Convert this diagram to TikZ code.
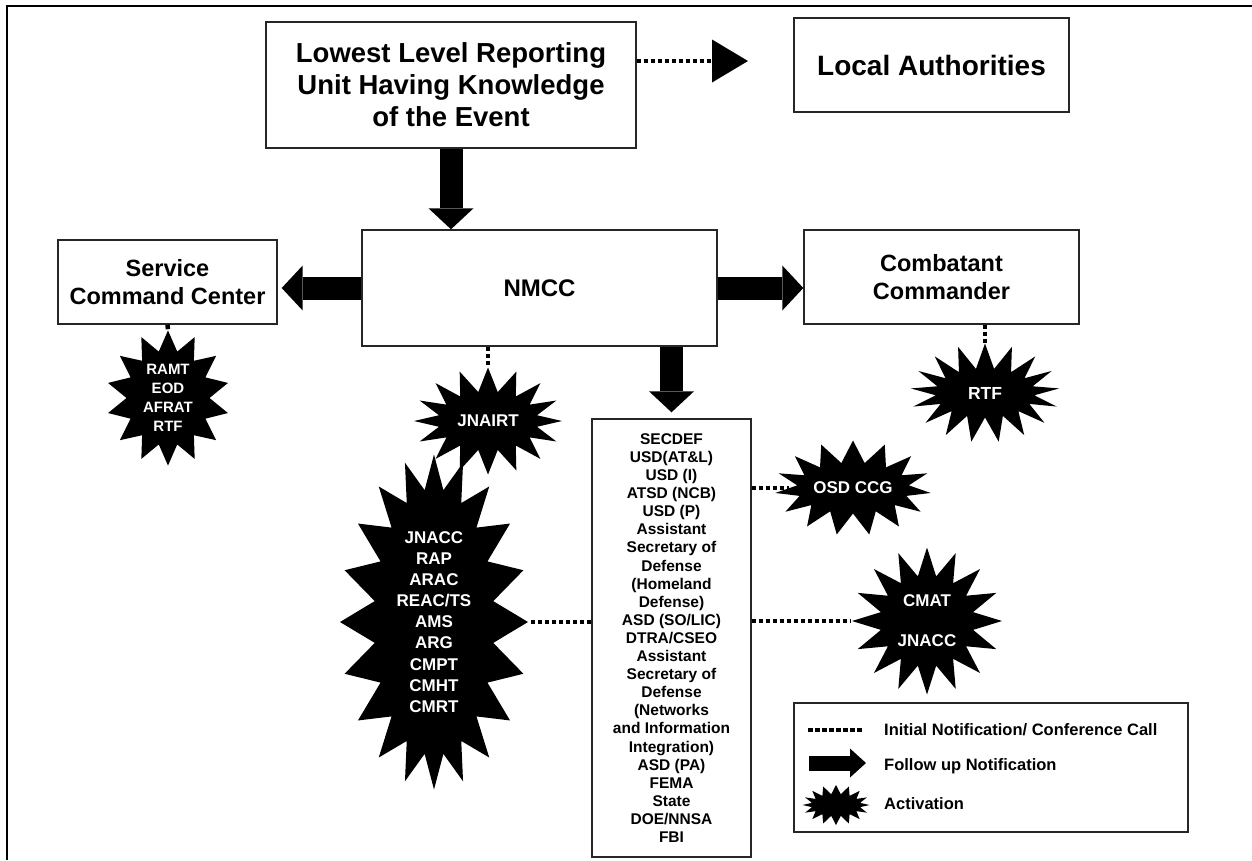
\documentclass[tikz,border=0pt]{standalone}
\usepackage{fontspec}
\setmainfont{Liberation Sans}
\usetikzlibrary{shapes.symbols,arrows.meta}

\begin{document}
\begin{tikzpicture}[x=1pt,y=-1pt,
  box/.style={draw=black!85, line width=1.4pt, fill=white, align=center,
    inner sep=0pt},
  bigtext/.style={font=\fontsize{27.5}{32}\selectfont\bfseries},
  midtext/.style={font=\fontsize{23.5}{28.5}\selectfont\bfseries},
  burst/.style={starburst, fill=black, draw=none, random starburst=0,
    text=white, align=center, inner sep=0pt},
  dots/.style={line width=4.5pt, dash pattern=on 4.5pt off 2.5pt, black},
  fat/.style={line width=23pt, black,
    -{Triangle[width=45pt,length=21pt,line width=0pt]}},
  legtext/.style={anchor=west, inner sep=0pt,
    font=\fontsize{16.5}{20}\selectfont\bfseries}
]
\useasboundingbox (0,0) rectangle (1252,860);

% page frame (top and left rules)
\draw[line width=2.5pt] (7,860) -- (7,6) -- (1252,6);

% boxes
\node[box, bigtext, minimum width=370pt, minimum height=126pt] (low) at (451,85)
  {Lowest Level Reporting\\Unit Having Knowledge\\of the Event};
\node[box, font=\fontsize{28}{32}\selectfont\bfseries,
  minimum width=275pt, minimum height=94pt] (loc) at (931.5,65)
  {Local Authorities};
\node[box, font=\fontsize{24}{30}\selectfont\bfseries,
  minimum width=355pt, minimum height=116pt] (nmcc) at (539.5,288) {NMCC};
\node[box, midtext, minimum width=219pt, minimum height=84pt] (svc) at (167.5,282)
  {Service\\Command Center};
\node[box, midtext, minimum width=275pt, minimum height=94pt] (cmb) at (941.5,277)
  {Combatant\\Commander};
\node[box, font=\fontsize{15.5}{18.1}\selectfont\bfseries,
  minimum width=159pt, minimum height=438pt] (list) at (671.5,638)
  {SECDEF\\USD(AT\&L)\\USD (I)\\ATSD (NCB)\\USD (P)\\Assistant\\Secretary of\\
   Defense\\(Homeland\\Defense)\\ASD (SO/LIC)\\DTRA/CSEO\\Assistant\\
   Secretary of\\Defense\\(Networks\\and Information\\Integration)\\
   ASD (PA)\\FEMA\\State\\DOE/NNSA\\FBI};

% activation bursts
\node[burst, font=\fontsize{15}{19}\selectfont\bfseries,
  starburst points=14, starburst point height=20pt,
  minimum width=123pt, minimum height=115pt] (ramt) at (168,398)
  {RAMT\\EOD\\AFRAT\\RTF};
\node[burst, font=\fontsize{17}{20}\selectfont\bfseries,
  starburst points=16, starburst point height=24pt,
  minimum width=148pt, minimum height=107pt] (jnairt) at (488,421) {JNAIRT};
\node[burst, font=\fontsize{17}{21.1}\selectfont\bfseries,
  starburst points=20, starburst point height=34pt,
  minimum width=188pt, minimum height=335pt] (jnacc) at (434,622)
  {JNACC\\RAP\\ARAC\\REAC/TS\\AMS\\ARG\\CMPT\\CMHT\\CMRT};
\node[burst, font=\fontsize{17}{20}\selectfont\bfseries,
  starburst points=15, starburst point height=22pt,
  minimum width=140pt, minimum height=95pt] (osd) at (853,488) {OSD CCG};
\node[burst, font=\fontsize{17}{40}\selectfont\bfseries,
  starburst points=16, starburst point height=28pt,
  minimum width=150pt, minimum height=147pt] (cmat) at (927,621)
  {CMAT\\JNACC};
\node[burst, font=\fontsize{17.5}{20}\selectfont\bfseries,
  starburst points=17, starburst point height=25pt,
  minimum width=149pt, minimum height=99pt] (rtf) at (985,393) {RTF};

% follow-up notifications
\draw[fat] (low.south) -- (low.south |- nmcc.north);
\draw[fat, shorten >=4pt] (nmcc.west) -- (svc.east |- nmcc.west);
\draw[fat] (nmcc.east) -- (cmb.west |- nmcc.east);
\draw[fat, shorten >=6pt] (list.north |- nmcc.south) -- (list.north);

% initial notifications
\coordinate (tip) at (755,61);
\draw[dots, -{Triangle[width=43pt,length=36pt,line width=0pt,sep=7pt]}]
  (low.east |- tip) -- (tip);
\draw[dots] (svc.south) -- (ramt.north);
\draw[dots] (nmcc.south -| jnairt.north) -- (jnairt.north);
\draw[dots] (cmb.south -| rtf.north) -- (rtf.north);
\draw[dots] (list.west |- jnacc.east) -- (jnacc.east);
\draw[dots] (list.east |- osd.west) -- (osd.west);
\draw[dots] (list.east |- cmat.west) -- (cmat.west);

% legend
\node[box, minimum width=394pt, minimum height=129pt] (legend) at (991,767.5) {};
\coordinate (l1a) at (808,730);
\coordinate (l1b) at (862,730);
\draw[dots] (l1a) -- (l1b);
\node[legtext] (t1) at (884,730) {Initial Notification/ Conference Call};
\coordinate (l2a) at (809,763);
\coordinate (l2b) at (866,763);
\draw[line width=15pt, -{Triangle[width=29pt,length=16pt,line width=0pt]}]
  (l2a) -- (l2b);
\node[legtext] (t2) at (884,766) {Follow up Notification};
\node[burst, starburst points=16, starburst point height=9pt,
  minimum width=67pt, minimum height=40pt] (lb) at (836,805) {};
\node[legtext] (t3) at (884,804) {Activation};
\end{tikzpicture}
\end{document}
